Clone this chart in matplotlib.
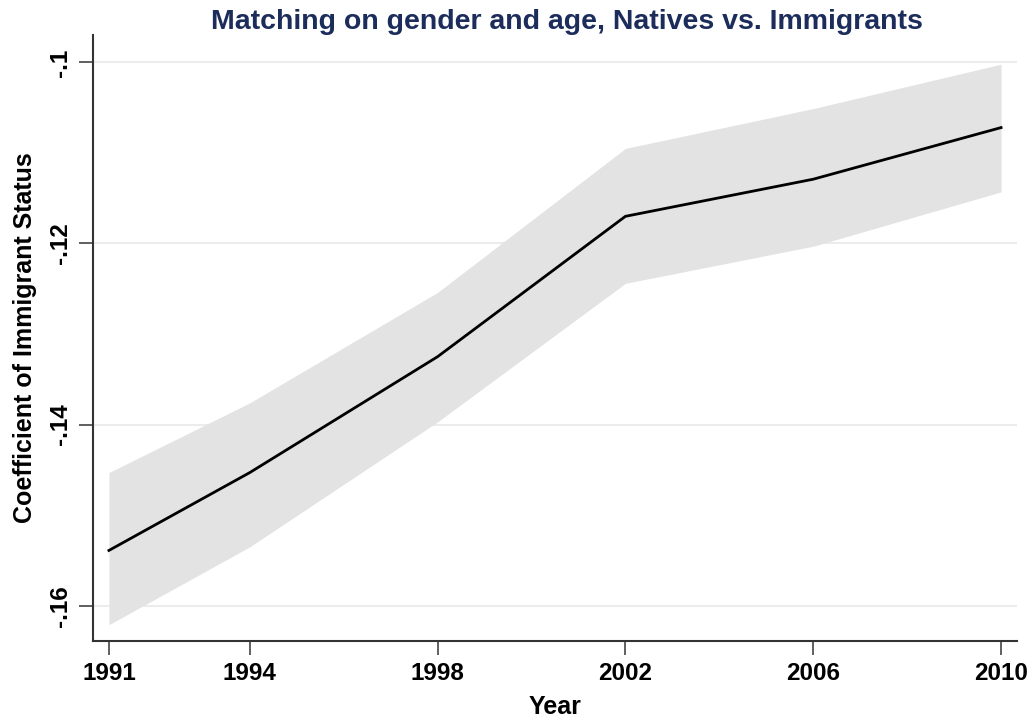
import matplotlib
matplotlib.use("Agg")
import matplotlib.pyplot as plt
from matplotlib.ticker import FixedLocator

years = [1991, 1994, 1998, 2002, 2006, 2010]
coef = [-0.1539, -0.1453, -0.1325, -0.1170, -0.1129, -0.1072]
ci_upper = [-0.1453, -0.1376, -0.1254, -0.1095, -0.1051, -0.1002]
ci_lower = [-0.1621, -0.1535, -0.1397, -0.1244, -0.1203, -0.1143]
y_ticks = [-0.16, -0.14, -0.12, -0.10]
y_tick_labels = ["-.16", "-.14", "-.12", "-.1"]
title = "Matching on gender and age, Natives vs. Immigrants"
xlabel = "Year"
ylabel = "Coefficient of Immigrant Status"

plt.rcParams['font.family'] = ['Liberation Sans', 'DejaVu Sans']

fig = plt.figure(figsize=(10.34, 7.19), dpi=100)
ax = fig.add_axes([0.0899, 0.1085, 0.8937, 0.8425])

ax.fill_between(years, ci_lower, ci_upper, color='#e3e3e3', linewidth=0, zorder=2)
ax.plot(years, coef, color='black', linewidth=2, zorder=3)

ax.set_xlim(1990.66, 2010.34)
ax.set_ylim(-0.1639, -0.0970)
ax.set_xticks(years)
ax.set_xticklabels([str(y) for y in years], fontsize=17.5, fontweight='bold')
ax.yaxis.set_major_locator(FixedLocator(y_ticks))
ax.set_yticklabels(y_tick_labels, fontsize=17.5, fontweight='bold', rotation=90, va='center')

ax.grid(axis='y', color='#ececec', linewidth=1.5, zorder=1)
ax.set_axisbelow(True)

for s in ['top', 'right']:
    ax.spines[s].set_visible(False)
for s in ['left', 'bottom']:
    ax.spines[s].set_color('#333333')
    ax.spines[s].set_linewidth(1.5)

ax.tick_params(axis='both', direction='out', length=10, width=1.2, color='#444444', pad=5)

ax.set_xlabel(xlabel, fontsize=18, fontweight='bold', labelpad=7)
ax.set_ylabel(ylabel, fontsize=18, fontweight='bold', labelpad=9)
fig.text(0.548, 0.970, title, ha='center', va='center', fontsize=20.5,
         fontweight='bold', color='#1c2d5c')

fig.savefig("out.png", dpi=100, facecolor='white')
